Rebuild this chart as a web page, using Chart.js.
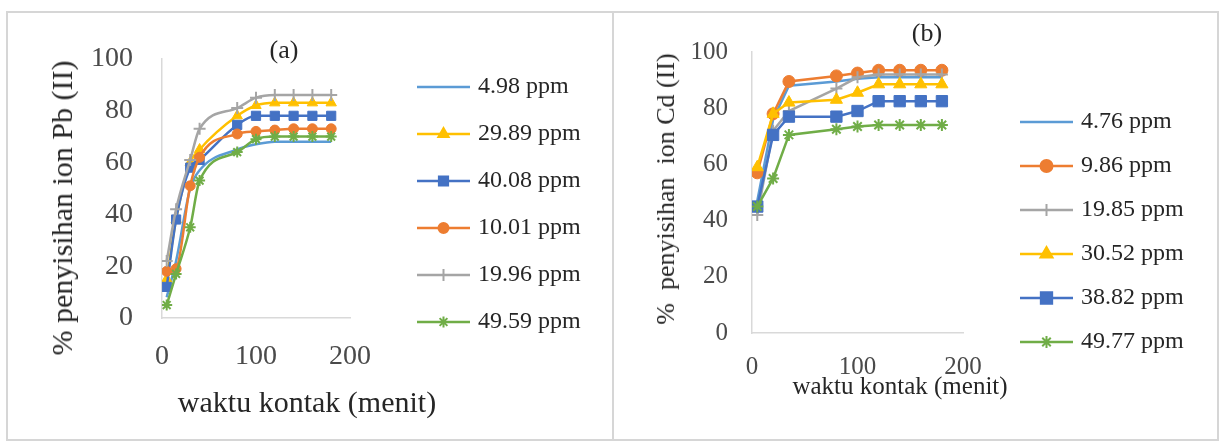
<!DOCTYPE html>
<html>
<head>
<meta charset="utf-8">
<script src="https://cdn.jsdelivr.net/npm/chart.js@4.4.1/dist/chart.umd.min.js"></script>
<style>
  html, body { margin: 0; padding: 0; background: #fff; }
  body { width: 1221px; height: 443px; position: relative; overflow: hidden;
         font-family: "Liberation Serif", "Times New Roman", serif; }
  .frame { position: absolute; left: 6px; top: 11px; width: 1213px; height: 430px;
           border: 2px solid #d6d6d6; box-sizing: border-box; }
  .divider { position: absolute; left: 612px; top: 11px; width: 2px; height: 430px; background: #d6d6d6; }
  .box { position: absolute; top: 13px; height: 426px; }
  #boxA { left: 8px; width: 604px; }
  #boxB { left: 616px; width: 600px; }
  .lbl { position: absolute; transform: translate(-50%, -50%); white-space: nowrap; color: #262626; }
  .rot { transform: translate(-50%, -50%) rotate(-90deg); }
</style>
</head>
<body>
<div class="frame"></div>
<div class="divider"></div>
<div class="box" id="boxA"><canvas id="chartA"></canvas></div>
<div class="box" id="boxB"><canvas id="chartB"></canvas></div>

<div class="lbl" style="left:284px; top:50px; font-size:26px;">(a)</div>
<div class="lbl rot" style="left:62px; top:208px; font-size:30px;">% penyisihan ion Pb (II)</div>
<div class="lbl" style="left:307px; top:402px; font-size:30px;">waktu kontak (menit)</div>

<div class="lbl" style="left:927px; top:33px; font-size:26px;">(b)</div>
<div class="lbl rot" style="left:666px; top:189px; font-size:26px;">%&nbsp; penyisihan&nbsp; ion Cd (II)</div>
<div class="lbl" style="left:900px; top:386px; font-size:25px;">waktu kontak (menit)</div>

<script>
// (a) Pb(II) removal vs contact time
const timesA = [5, 15, 30, 40, 80, 100, 120, 140, 160, 180];
const namesA = ["4.98 ppm", "29.89 ppm", "40.08 ppm", "10.01 ppm", "19.96 ppm", "49.59 ppm"];
const pb498  = [8, 22, 50, 57, 65, 67, 68, 68, 68, 68];
const pb2989 = [15, 38, 60, 65, 78, 82, 83, 83, 83, 83];
const pb4008 = [12, 38, 58, 61, 74.5, 78, 78, 78, 78, 78];
const pb1001 = [18, 19, 51, 62, 71, 72, 72.5, 73, 73, 73];
const pb1996 = [22, 42, 61, 73, 81, 85, 86, 86, 86, 86];
const pb4959 = [5, 17, 35, 53, 64, 69, 70, 70, 70, 70];

// (b) Cd(II) removal vs contact time
const timesB = [5, 20, 35, 80, 100, 120, 140, 160, 180];
const namesB = ["4.76 ppm", "9.86 ppm", "19.85 ppm", "30.52 ppm", "38.82 ppm", "49.77 ppm"];
const cd476  = [47, 76, 88, 89.5, 90.5, 91, 91, 91, 91];
const cd986  = [57, 78, 89.5, 91.5, 92.5, 93.5, 93.5, 93.5, 93.5];
const cd1985 = [42, 72, 79, 87, 91, 92, 92, 92, 92];
const cd3052 = [59, 78, 82, 83, 85.5, 88.5, 88.5, 88.5, 88.5];
const cd3882 = [45, 70.5, 77, 77, 79, 82.5, 82.5, 82.5, 82.5];
const cd4977 = [45, 55, 70.5, 72.5, 73.5, 74, 74, 74, 74];

const xTicks = [0, 100, 200];
const yTicks = [0, 20, 40, 60, 80, 100];

const C = {
  lightBlue: "#5B9BD5", orange: "#ED7D31", gray: "#A5A5A5",
  yellow: "#FFC000", blue: "#4472C4", green: "#70AD47"
};
const FONT = "'Liberation Serif', 'Times New Roman', serif";

function toPoints(times, values) {
  return times.map((t, i) => ({ x: t, y: values[i] }));
}

function swatch(color, style, radius) {
  const c = document.createElement("canvas");
  c.width = 53; c.height = 22;
  const ctx = c.getContext("2d");
  ctx.strokeStyle = color; ctx.fillStyle = color; ctx.lineWidth = 2.5;
  ctx.beginPath(); ctx.moveTo(0, 11); ctx.lineTo(53, 11); ctx.stroke();
  if (style) {
    ctx.lineWidth = 2;
    Chart.helpers.drawPoint(ctx, { pointStyle: style, radius: radius, borderWidth: 2, rotation: 0 }, 26.5, 11);
  }
  return c;
}

// move the legend column to a fixed spot after layout
const placeLegend = {
  id: "placeLegend",
  afterLayout(chart, args, opts) {
    const lg = chart.legend;
    if (!lg || opts.x == null) return;
    const pad = lg.options.labels.padding;
    const fs = lg.options.labels.font.size;
    const dx = opts.x - pad - lg.left;
    const dy = opts.y - pad - fs / 2 - lg.top;
    lg.left += dx; lg.top += dy; lg.bottom += dy;
    lg.right = chart.width;
    lg.width = lg.right - lg.left;
  }
};

function makeChart(id, p) {
  const datasets = p.series.map((vals, i) => ({
    label: p.names[i],
    data: toPoints(p.times, vals),
    borderColor: p.colors[i],
    backgroundColor: p.colors[i],
    borderWidth: 2.5,
    pointStyle: p.markers[i] || "circle",
    pointRadius: p.markers[i] ? p.radii[i] : 0,
    pointBorderWidth: p.markers[i] === "cross" || p.markers[i] === "star" ? 2 : 1,
    pointBackgroundColor: p.colors[i],
    pointBorderColor: p.colors[i],
    cubicInterpolationMode: p.smooth ? "monotone" : "default",
    tension: 0,
    order: -i
  }));
  const swatches = p.series.map((v, i) => swatch(p.colors[i], p.markers[i], p.radii[i]));

  return new Chart(document.getElementById(id), {
    type: "line",
    data: { datasets },
    plugins: [placeLegend],
    options: {
      responsive: true,
      maintainAspectRatio: false,
      animation: false,
      layout: { padding: { left: 0, top: p.padTop, right: p.padRight, bottom: 0 } },
      plugins: {
        tooltip: { enabled: false },
        placeLegend: { x: p.legendX, y: p.legendY },
        legend: {
          position: "right",
          align: "start",
          maxWidth: 180,
          labels: {
            usePointStyle: true,
            pointStyleWidth: 45,
            padding: p.legendGap,
            color: "#262626",
            font: { family: FONT, size: 24 },
            generateLabels: chart => chart.data.datasets.map((ds, i) => ({
              text: ds.label,
              pointStyle: swatches[i],
              fillStyle: ds.borderColor,
              strokeStyle: ds.borderColor,
              fontColor: "#262626",
              lineWidth: 0,
              hidden: false,
              datasetIndex: i
            }))
          }
        }
      },
      scales: {
        x: {
          type: "linear",
          min: xTicks[0], max: xTicks[xTicks.length - 1],
          afterBuildTicks: s => { s.ticks = xTicks.map(v => ({ value: v })); },
          grid: { display: false, drawTicks: false },
          border: { display: true, color: "#d9d9d9", width: 1.5 },
          ticks: { padding: p.xPad, maxRotation: 0, color: "#4a4a4a",
                   font: { family: FONT, size: p.xFont } },
          afterFit: s => { s.height = p.xHeight; }
        },
        y: {
          type: "linear",
          min: yTicks[0], max: yTicks[yTicks.length - 1],
          afterBuildTicks: s => { s.ticks = yTicks.map(v => ({ value: v })); },
          grid: { display: false, drawTicks: false },
          border: { display: true, color: "#d9d9d9", width: 1.5 },
          ticks: { padding: p.yPad, color: "#4a4a4a",
                   font: { family: FONT, size: p.yFont } },
          afterFit: s => { s.width = p.yWidth; }
        }
      }
    }
  });
}

makeChart("chartA", {
  times: timesA,
  names: namesA,
  series: [pb498, pb2989, pb4008, pb1001, pb1996, pb4959],
  colors: [C.lightBlue, C.yellow, C.blue, C.orange, C.gray, C.green],
  markers: [null, "triangle", "rect", "circle", "cross", "star"],
  radii: [0, 6, 6.5, 5, 6, 5.5],
  smooth: true,
  padTop: 30, padRight: 82,
  xHeight: 121, yWidth: 154,
  xPad: 22, yPad: 29, xFont: 28, yFont: 28,
  legendX: 413, legendY: 74, legendGap: 23
});

makeChart("chartB", {
  times: timesB,
  names: namesB,
  series: [cd476, cd986, cd1985, cd3052, cd3882, cd4977],
  colors: [C.lightBlue, C.orange, C.gray, C.yellow, C.blue, C.green],
  markers: [null, "circle", "cross", "triangle", "rect", "star"],
  radii: [0, 6, 6, 7, 8, 6],
  smooth: false,
  padTop: 29, padRight: 73,
  xHeight: 106, yWidth: 136,
  xPad: 19, yPad: 24, xFont: 25, yFont: 25,
  legendX: 408, legendY: 109, legendGap: 20
});
</script>
</body>
</html>
